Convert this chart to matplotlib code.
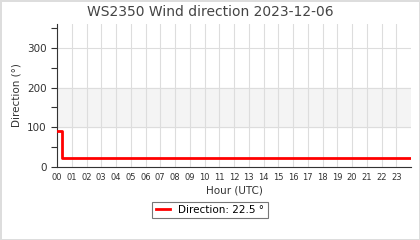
import numpy as np
import matplotlib
matplotlib.use("Agg")
import matplotlib.pyplot as plt
from matplotlib.ticker import MultipleLocator

# ── Data ───────────────────────────────────────────
hours = [0.0, 0.34, 24.0]
direction = [90.0, 22.5, 22.5]
hour_labels = [f"{h:02d}" for h in range(24)]
band = [100, 200]
legend_label = "Direction: 22.5 °"

# ── Figure ─────────────────────────────────────────
fig = plt.figure(figsize=(4.2, 2.4), dpi=100)
fig.patch.set_edgecolor('#dddddd')
fig.patch.set_linewidth(2)
ax = fig.add_axes([57 / 420, 73 / 240, 354 / 420, 143 / 240])

ax.axhspan(band[0], band[1], color='#f4f4f4', zorder=0)
line, = ax.plot(hours, direction, color='red', linewidth=2.0,
                drawstyle='steps-post', label=legend_label, zorder=3)

ax.set_xlim(0, 24)
ax.set_ylim(0, 360)
ax.set_xticks(range(24))
ax.set_xticklabels(hour_labels)
ax.yaxis.set_major_locator(MultipleLocator(100))
ax.yaxis.set_minor_locator(MultipleLocator(50))
ax.tick_params(axis='x', labelsize=6, length=0, pad=4, colors='#333333')
ax.tick_params(axis='y', which='both', labelsize=7.5, colors='#333333',
               length=4, width=0.8)
ax.grid(True, color='#dddddd', linewidth=0.8)
ax.set_axisbelow(True)
for s in ['top', 'right']:
    ax.spines[s].set_visible(False)
for s in ['left', 'bottom']:
    ax.spines[s].set_color('#333333')

ax.set_xlabel('Hour (UTC)', fontsize=7.5, color='#333333', labelpad=3)
ax.set_ylabel('Direction (°)', fontsize=7.5, color='#333333')

fig.text(0.5, 0.95, 'WS2350 Wind direction 2023-12-06', ha='center',
         va='center', fontsize=10, color='#444444')

leg = fig.legend(handles=[line], loc='lower center',
                 bbox_to_anchor=(0.5, 0.07), fontsize=7.5, fancybox=False,
                 handlelength=1.4, borderpad=0.3)
leg.get_frame().set_edgecolor('#555555')
leg.get_frame().set_linewidth(0.8)

fig.savefig('out.png', dpi=100, edgecolor=fig.get_edgecolor())
